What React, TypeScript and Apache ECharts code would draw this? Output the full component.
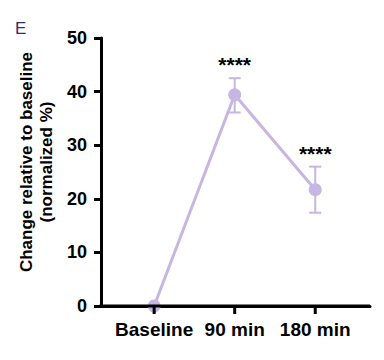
import React, { useEffect, useRef } from "react";
import * as echarts from "echarts";

const categories = ["Baseline", "90 min", "180 min"];
const means = [0, 39.4, 21.7];
const lower = [0, 36.1, 17.4];
const upper = [0, 42.5, 26.0];
const significance = ["", "****", "****"];
const yTicks = [0, 10, 20, 30, 40, 50];

const FONT = "'Liberation Sans', Arial, Helvetica, sans-serif";
const PURPLE = "#c7b5e2";
const X_MIN = -0.66;
const X_MAX = 2.68;

export default function App() {
  const ref = useRef<HTMLDivElement>(null);
  useEffect(() => {
    if (!ref.current) return;
    const chart = echarts.init(ref.current, undefined, { renderer: "svg" });
    const lineData = means.map((v, i) => [i, v]);
    const errData = means
      .map((_, i) => [i, lower[i], upper[i], significance[i]])
      .filter((d) => d[2] !== d[1] || d[3] !== "");
    const baseGraphics: any[] = [
      {
        type: "text",
        left: 15,
        top: 20,
        style: { text: "E", fontFamily: FONT, fontSize: 17, fill: "#3a2c6c" },
      },
      {
        type: "text",
        x: 36,
        y: 162,
        rotation: Math.PI / 2,
        style: {
          text: "Change relative to baseline\n(normalized %)",
          fontFamily: FONT,
          fontWeight: "bold",
          fontSize: 17,
          lineHeight: 20,
          fill: "#000",
          align: "center",
          verticalAlign: "middle",
        },
      },
    ];
    chart.setOption({
      animation: false,
      backgroundColor: "#ffffff",
      grid: { left: 101, right: 14, top: 38, bottom: 54, containLabel: false },
      xAxis: {
        type: "value",
        position: "bottom",
        min: X_MIN,
        max: X_MAX,
        splitLine: { show: false },
        axisLine: { show: true, onZero: false, lineStyle: { color: "#000000", width: 3 } },
        axisTick: { show: true, length: 0, lineStyle: { color: "#000000", width: 3 } },
        axisLabel: {
          customValues: [0, 1, 2],
          formatter: (v: number) => categories[Math.round(v)] ?? "",
          color: "#000",
          fontFamily: FONT,
          fontWeight: "bold",
          fontSize: 19,
          margin: 14,
        },
      },
      yAxis: {
        type: "value",
        min: yTicks[0],
        max: yTicks[yTicks.length - 1],
        interval: 10,
        splitLine: { show: false },
        axisLine: { show: true, onZero: false, lineStyle: { color: "#000", width: 3 } },
        axisTick: { show: true, length: 7, lineStyle: { color: "#000", width: 3 } },
        axisLabel: {
          color: "#000",
          fontFamily: FONT,
          fontWeight: "bold",
          fontSize: 18,
          margin: 14,
        },
      },
      graphic: baseGraphics,
      series: [
        {
          type: "custom",
          z: 1,
          data: errData,
          renderItem: (params: any, api: any) => {
            const x = api.value(0);
            const lo = api.coord([x, api.value(1)]);
            const hi = api.coord([x, api.value(2)]);
            const half = 6;
            const ls = { stroke: PURPLE, lineWidth: 2 };
            const sig = api.value(3);
            return {
              type: "group",
              children: [
                { type: "line", shape: { x1: lo[0], y1: lo[1], x2: hi[0], y2: hi[1] }, style: ls },
                { type: "line", shape: { x1: hi[0] - half, y1: hi[1], x2: hi[0] + half, y2: hi[1] }, style: ls },
                { type: "line", shape: { x1: lo[0] - half, y1: lo[1], x2: lo[0] + half, y2: lo[1] }, style: ls },
                {
                  type: "text",
                  x: hi[0],
                  y: hi[1] - 3,
                  style: {
                    text: sig,
                    fontFamily: FONT,
                    fontWeight: "bold",
                    fontSize: 21,
                    fill: "#000",
                    align: "center",
                    verticalAlign: "bottom",
                  },
                },
              ],
            };
          },
        },
        {
          type: "line",
          z: 2,
          data: lineData,
          symbol: "circle",
          symbolSize: 13,
          lineStyle: { color: PURPLE, width: 3 },
          itemStyle: { color: PURPLE },
        },
      ],
    });

    // x-axis line and category ticks, positioned through the chart's own scales
    const start = chart.convertToPixel({ gridIndex: 0 }, [X_MIN, yTicks[0]]) as number[];
    const end = chart.convertToPixel({ gridIndex: 0 }, [X_MAX, yTicks[0]]) as number[];
    const axisGraphics: any[] = [
      {
        type: "line",
        z: 50,
        shape: { x1: start[0] - 1.5, y1: start[1], x2: end[0], y2: end[1] },
        style: { stroke: "#000000", lineWidth: 3 },
      },
    ];
    categories.forEach((_, i) => {
      const p = chart.convertToPixel({ gridIndex: 0 }, [i, yTicks[0]]) as number[];
      axisGraphics.push({
        type: "line",
        z: 50,
        shape: { x1: p[0], y1: p[1], x2: p[0], y2: p[1] + 8 },
        style: { stroke: "#000000", lineWidth: 3 },
      });
    });
    chart.setOption({ graphic: baseGraphics.concat(axisGraphics) });

    return () => chart.dispose();
  }, []);
  return <div ref={ref} style={{ width: 384, height: 360, position: "absolute", left: 0, top: 0 }} />;
}
